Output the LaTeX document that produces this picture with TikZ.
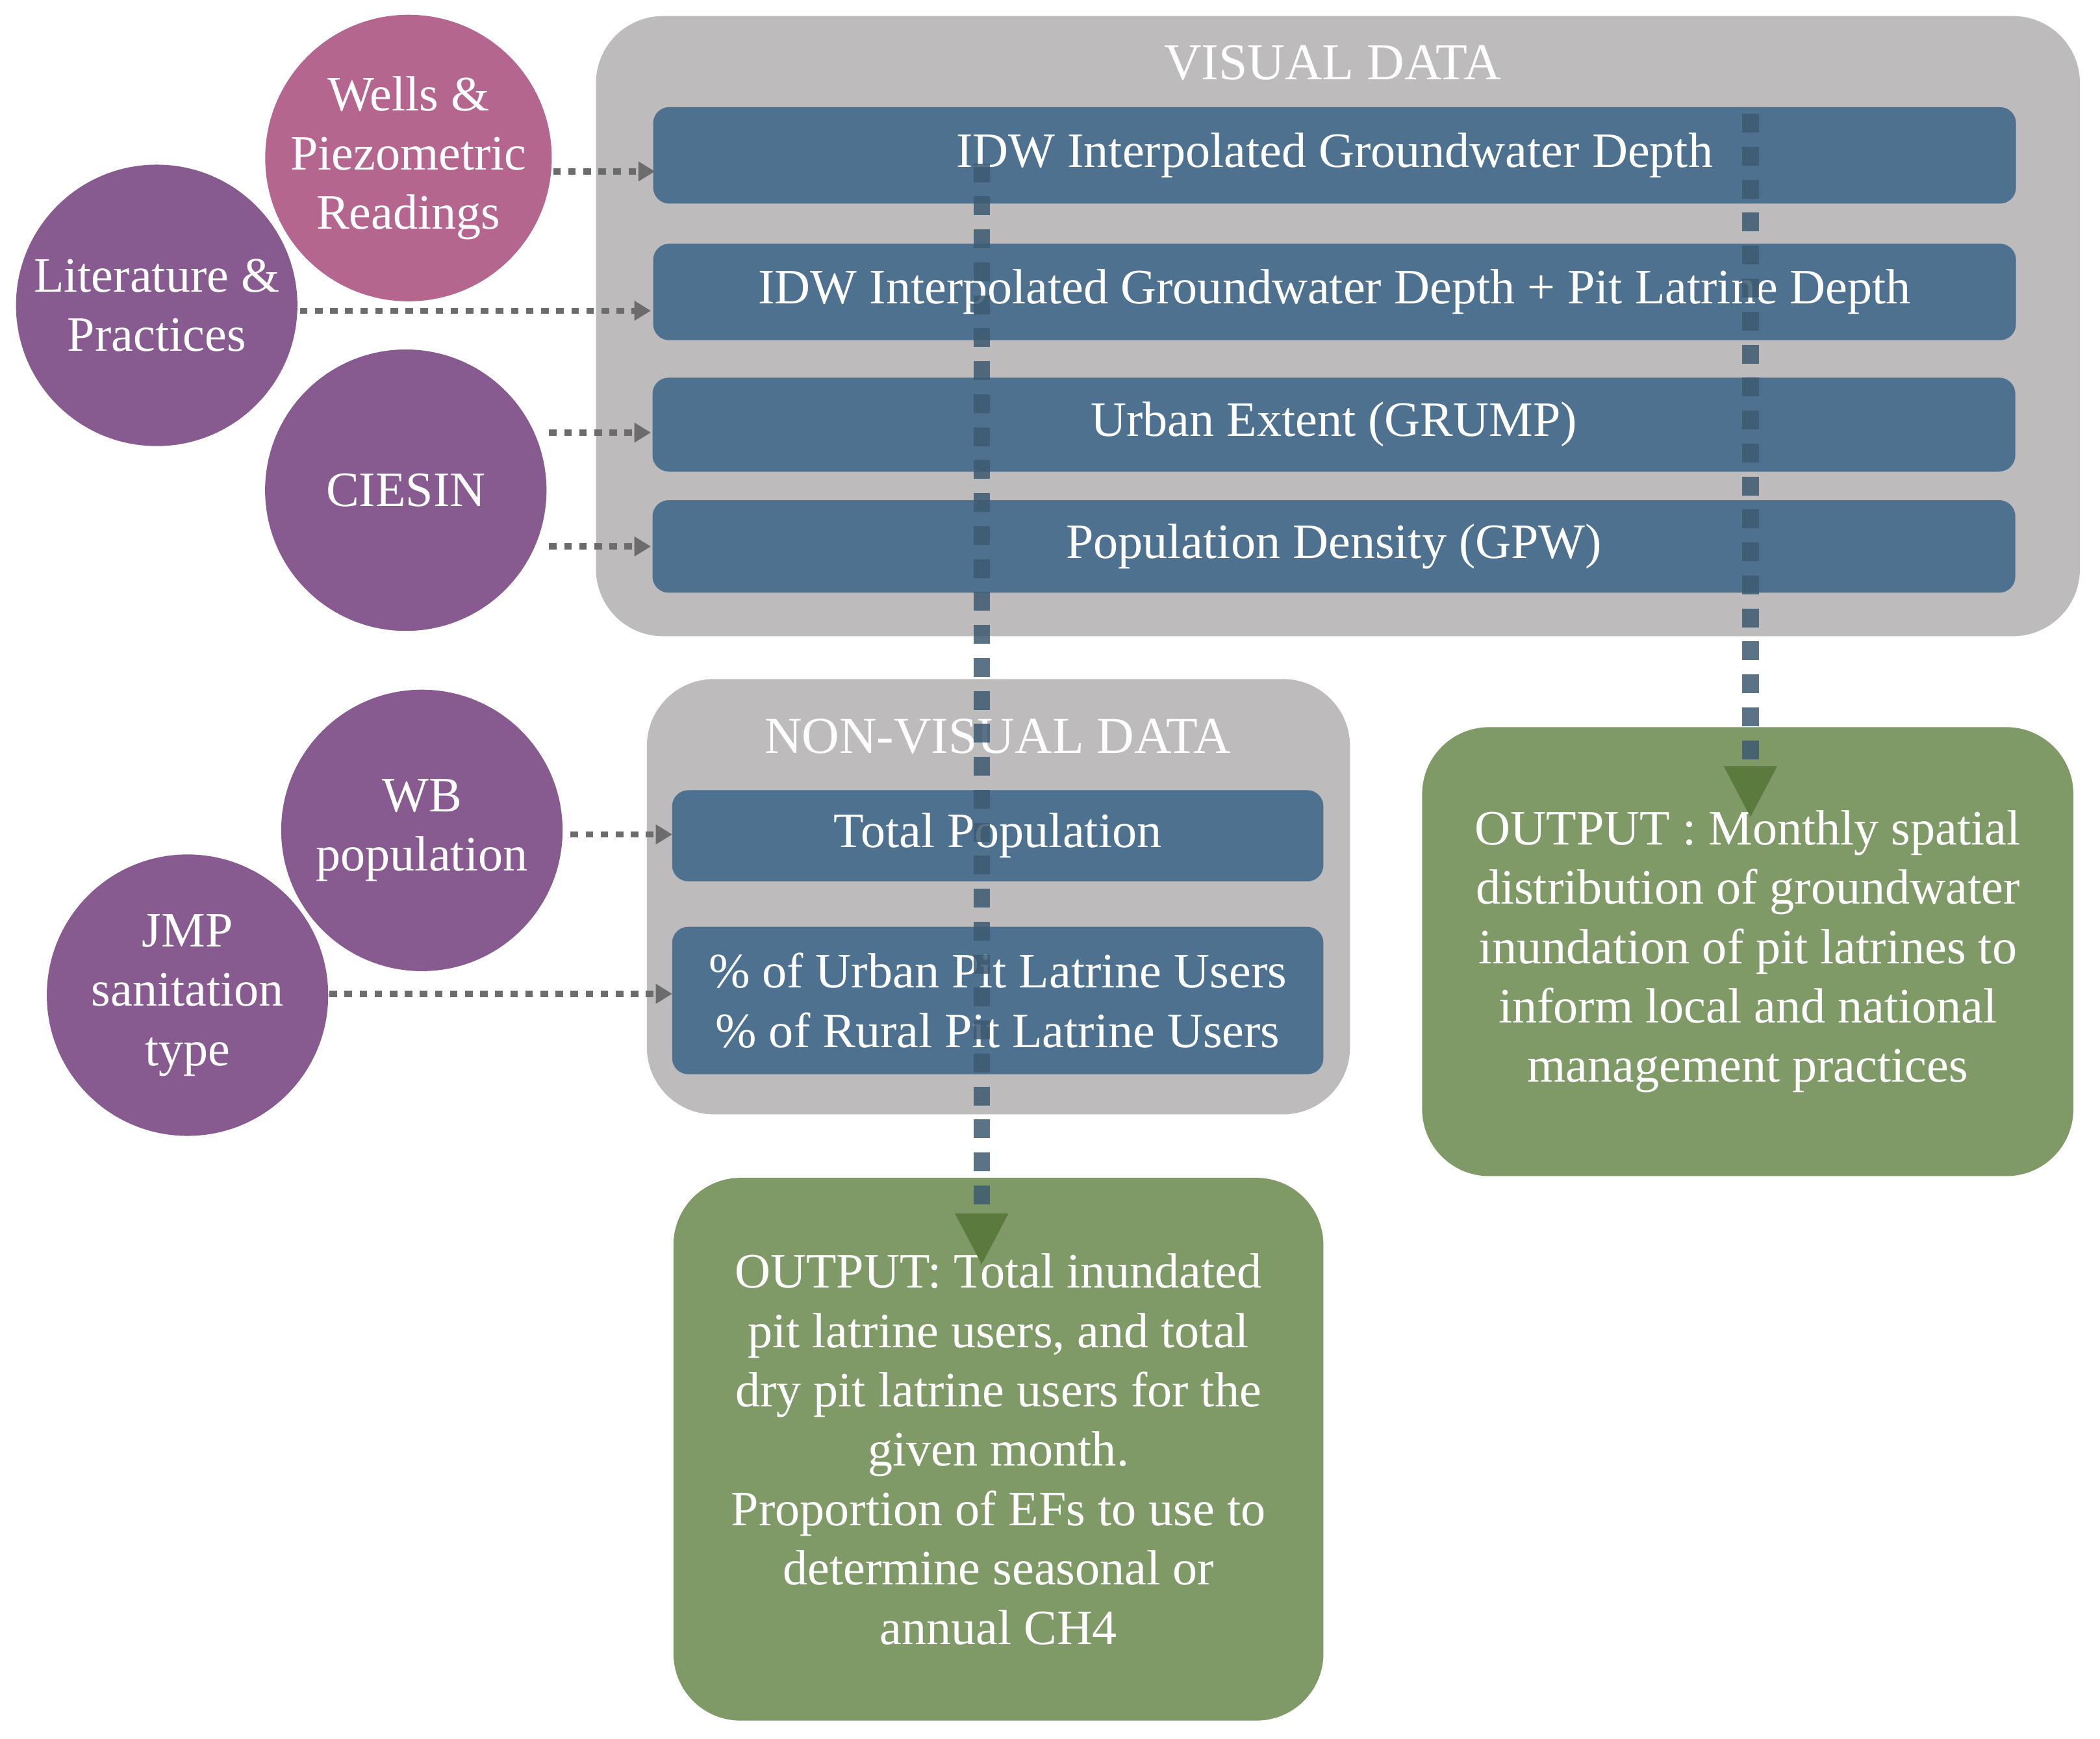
\documentclass[tikz,border=0pt]{standalone}
\usepackage{fontspec}
\setmainfont{Liberation Serif}
\usetikzlibrary{arrows.meta}
\definecolor{grayb}{HTML}{BDBBBB}
\definecolor{bar}{HTML}{4E7190}
\definecolor{grn}{HTML}{7F9A66}
\definecolor{purp}{HTML}{875A90}
\definecolor{pink}{HTML}{B4668F}
\definecolor{flow}{HTML}{3E5A72}
\definecolor{tipg}{HTML}{5B7A3D}
\begin{document}
\begin{tikzpicture}[x=0.01cm,y=-0.01cm,
  every node/.style={font=\fontsize{10.5}{12.6}\selectfont,text=white},
  panel/.style={fill=grayb,rounded corners=0.5cm,draw=none},
  bar/.style={fill=bar,rounded corners=0.12cm,draw=none,inner sep=0pt},
  outbox/.style={fill=grn,rounded corners=0.5cm,draw=none,inner sep=0pt,align=center},
  src/.style={circle,fill=purp,minimum size=2.1cm,inner sep=0pt,align=center},
  dot/.style={draw=gray!85!black,line width=1.3pt,dash pattern=on 1.6pt off 1.6pt,-{Triangle[length=3.5pt,width=4pt]}},
  flowl/.style={draw=flow,opacity=0.85,line width=3.5pt,dash pattern=on 4pt off 3pt},
  tip/.style={fill=tipg}]
\useasboundingbox (0,0) rectangle (1568,1298);
% panels
\path[panel] (445,12) rectangle (1553,475);
\node at (995,47) {\fontsize{11}{13}\selectfont VISUAL DATA};
\path[panel] (483,507) rectangle (1008,832);
\node at (745,550) {\fontsize{11}{13}\selectfont NON-VISUAL DATA};
% bars
\node[bar,minimum width=10.17cm,minimum height=0.72cm] (b1) at (996.5,116) {IDW Interpolated Groundwater Depth};
\node[bar,minimum width=10.17cm,minimum height=0.72cm] (b2) at (996.5,218) {IDW Interpolated Groundwater Depth + Pit Latrine Depth};
\node[bar,minimum width=10.17cm,minimum height=0.70cm] (b3) at (996,317) {Urban Extent (GRUMP)};
\node[bar,minimum width=10.17cm,minimum height=0.69cm] (b4) at (996,408) {Population Density (GPW)};
\node[bar,minimum width=4.86cm,minimum height=0.68cm] (b5) at (745,624) {Total Population};
\node[bar,minimum width=4.86cm,minimum height=1.10cm,align=center] (b6) at (745,747) {\% of Urban Pit Latrine Users\\\% of Rural Pit Latrine Users};
% outputs
\node[outbox,minimum width=4.85cm,minimum height=4.05cm] (o1) at (745.5,1082) {OUTPUT: Total inundated\\pit latrine users, and total\\dry pit latrine users for the\\given month.\\Proportion of EFs to use to\\determine seasonal or\\annual CH4};
\node[outbox,minimum width=4.86cm,minimum height=3.35cm] (o2) at (1305,710.5) {OUTPUT : Monthly spatial\\distribution of groundwater\\inundation of pit latrines to\\inform local and national\\management practices};
% circles
\node[src,fill=pink,minimum size=2.06cm] (c1) at (305,118) {Wells \&\\Piezometric\\Readings};
\node[src] (c2) at (117,228) {Literature \&\\Practices};
\node[src] (c3) at (303,366) {CIESIN};
\node[src] (c4) at (315,620) {WB\\population};
\node[src] (c5) at (140,743) {JMP\\sanitation\\type};
% dotted connectors
\coordinate (s1) at (413,128); \coordinate (t1) at (489,128);
\coordinate (s2) at (224,232); \coordinate (t2) at (486,232);
\coordinate (s3) at (410,323); \coordinate (t3) at (486,323);
\coordinate (s4) at (410,408); \coordinate (t4) at (486,408);
\coordinate (s5) at (426,623); \coordinate (t5) at (502,623);
\coordinate (s6) at (246,742); \coordinate (t6) at (502,742);
\foreach \i in {1,...,6}{\draw[dot] (s\i) -- (t\i);}
% flow lines
\coordinate (f1a) at (733,122); \coordinate (f1b) at (733,908);
\coordinate (f2a) at (1307,85); \coordinate (f2b) at (1307,572);
\draw[flowl] (f1a) -- (f1b);
\draw[flowl] (f2a) -- (f2b);
\path[tip] (713,906) -- (753,906) -- (733,944) -- cycle;
\path[tip] (1287,572) -- (1327,572) -- (1307,610) -- cycle;
\end{tikzpicture}
\end{document}
